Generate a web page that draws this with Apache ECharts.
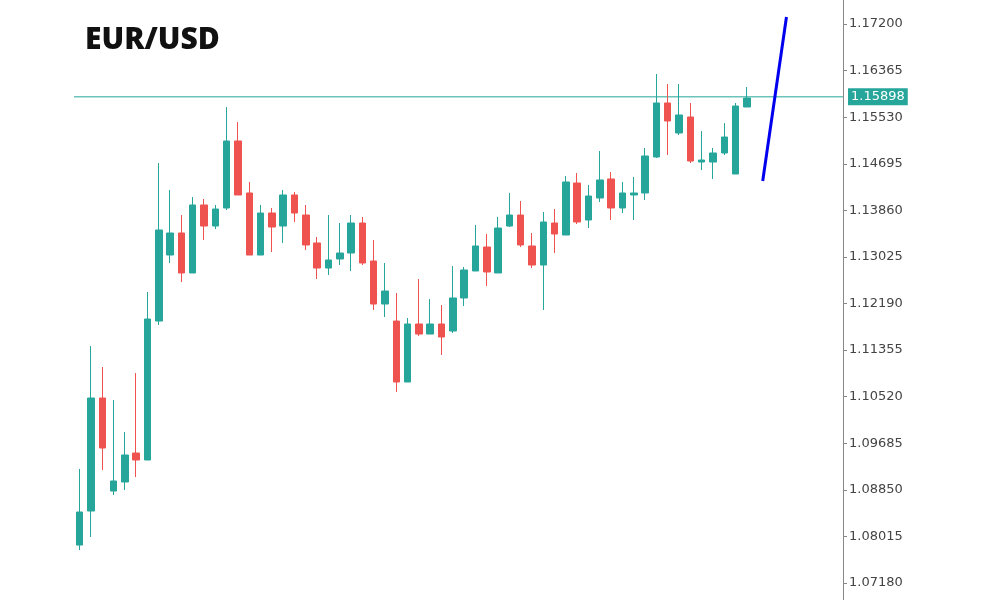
<!DOCTYPE html>
<html><head><meta charset="utf-8">
<script src="https://cdn.jsdelivr.net/npm/echarts@6/dist/echarts.min.js"></script>
<style>html,body{margin:0;padding:0;background:#fff}#c{width:1000px;height:600px}</style>
</head><body><div id="c"></div>
<script>
// [open, close, low, high]
const candles = [
[1.07861,1.08453,1.07772,1.09224],[1.08471,1.10496,1.08005,1.11428],[1.10496,1.09600,1.09206,1.11052],
[1.08829,1.09009,1.08758,1.10460],[1.08991,1.09475,1.08847,1.09887],[1.09510,1.09385,1.09080,1.10944],
[1.09385,1.11912,1.09385,1.12396],[1.11876,1.13508,1.11805,1.14708],[1.13059,1.13454,1.12916,1.14224],
[1.13454,1.12737,1.12575,1.13776],[1.12737,1.13956,1.12737,1.14099],[1.13956,1.13579,1.13328,1.14063],
[1.13579,1.13884,1.13525,1.13956],[1.13902,1.15103,1.13866,1.15712],[1.15103,1.14135,1.14135,1.15443],
[1.14171,1.13059,1.13059,1.14368],[1.13059,1.13812,1.13059,1.13956],[1.13812,1.13561,1.13113,1.13902],
[1.13579,1.14135,1.13275,1.14224],[1.14135,1.13812,1.13651,1.14189],[1.13776,1.13239,1.13149,1.13956],
[1.13275,1.12826,1.12629,1.13382],[1.12826,1.12970,1.12701,1.13776],[1.12988,1.13095,1.12880,1.13633],
[1.13095,1.13633,1.12773,1.13776],[1.13633,1.12916,1.12880,1.13741],[1.12952,1.12181,1.12074,1.13328],
[1.12181,1.12414,1.11948,1.12916],[1.11876,1.10783,1.10604,1.12378],[1.10783,1.11823,1.10783,1.11930],
[1.11823,1.11643,1.11608,1.12629],[1.11643,1.11823,1.11643,1.12271],[1.11823,1.11590,1.11267,1.12163],
[1.11697,1.12289,1.11661,1.12862],[1.12289,1.12791,1.12145,1.12844],[1.12773,1.13221,1.12773,1.13597],
[1.13203,1.12755,1.12504,1.13436],[1.12737,1.13543,1.12737,1.13741],[1.13579,1.13776,1.13561,1.14171],
[1.13776,1.13239,1.13203,1.14027],[1.13221,1.12880,1.12826,1.13454],[1.12880,1.13651,1.12074,1.13830],
[1.13633,1.13436,1.13095,1.13884],[1.13418,1.14368,1.13418,1.14475],[1.14350,1.13651,1.13615,1.14529],
[1.13687,1.14117,1.13543,1.14314],[1.14081,1.14404,1.14009,1.14923],[1.14422,1.13902,1.13687,1.14547],
[1.13902,1.14171,1.13812,1.14368],[1.14135,1.14171,1.13687,1.14457],[1.14171,1.14834,1.14045,1.14977],
[1.14816,1.15784,1.14798,1.16304],[1.15784,1.15461,1.14852,1.16124],[1.15246,1.15569,1.15210,1.16124],
[1.15533,1.14744,1.14708,1.15784],[1.14726,1.14762,1.14583,1.15282],[1.14726,1.14888,1.14422,1.14977],
[1.14888,1.15174,1.14852,1.15425],[1.14511,1.15730,1.14511,1.15784],[1.15712,1.15873,1.15712,1.16071]
];
const totalSlots = 68;
const categories = Array.from({length: totalSlots}, (_, i) => String(i + 1));
const projection = [[60.4, 1.14386], [62.5, 1.17325]];
const currentPrice = 1.15898;
const tickValues = [1.07180,1.08015,1.08850,1.09685,1.10520,1.11355,1.12190,1.13025,1.13860,1.14695,1.15530,1.16365,1.17200];

const chart = echarts.init(document.getElementById('c'));
chart.setOption({
  animation: false,
  title: {text: 'EUR/USD', left: 80, top: 20, textStyle: {fontFamily: 'Open Sans', fontWeight: 800, fontSize: 30, color: '#111'}},
  grid: {left: 74, right: 157, top: 0, bottom: 0},
  xAxis: [
    {type: 'category', data: categories, show: false},
    {type: 'value', min: -0.5, max: totalSlots - 0.5, show: false}
  ],
  yAxis: {
    type: 'value', position: 'right', min: 1.06876, max: 1.17630, scale: true,
    splitLine: {show: false},
    axisLine: {show: true, onZero: false, lineStyle: {color: '#888'}},
    axisTick: {show: true, length: 4, customValues: tickValues, lineStyle: {color: '#888'}},
    axisLabel: {customValues: tickValues, formatter: v => v.toFixed(5), fontFamily: 'DejaVu Sans', fontSize: 13, color: '#444', margin: 6}
  },
  series: [
    {
      type: 'candlestick', data: candles, barWidth: 7,
      itemStyle: {color: '#26a69a', color0: '#ef5350', borderColor: '#26a69a', borderColor0: '#ef5350', borderWidth: 1}
    },
    {
      type: 'line', xAxisIndex: 1, data: [[-0.5, currentPrice], [totalSlots - 0.5, currentPrice]], symbol: 'none',
      lineStyle: {color: '#6cc3b9', width: 1.5}, z: 1,
      endLabel: {show: true, formatter: currentPrice.toFixed(5), backgroundColor: '#26a69a', color: '#fff',
        fontFamily: 'DejaVu Sans', fontSize: 13, padding: [2, 3], distance: 5}
    },
    {
      type: 'line', xAxisIndex: 1, data: projection, symbol: 'none',
      lineStyle: {color: '#0000ee', width: 3}
    }
  ]
});
</script></body></html>
